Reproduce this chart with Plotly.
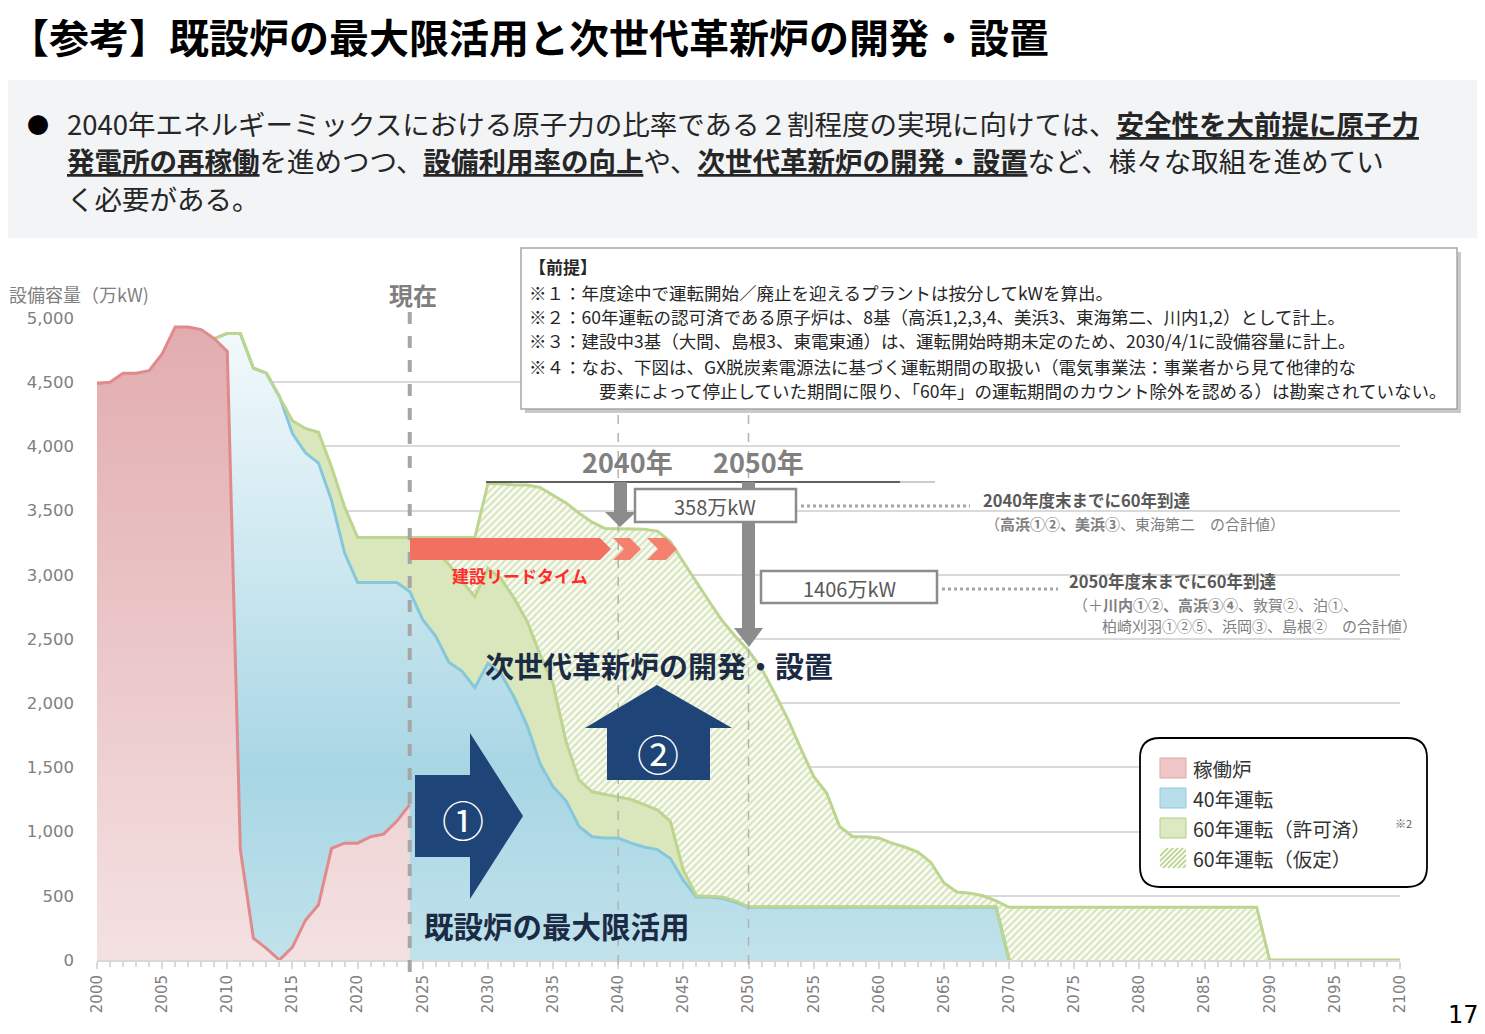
import plotly.graph_objects as go

# ---- data (万kW) ----
years_op = list(range(2000, 2025))
operating = [4490, 4500, 4570, 4570, 4590, 4720, 4930, 4930, 4910, 4840,
             4740, 860, 170, 90, 0, 100, 310, 430, 870, 910,
             910, 960, 980, 1080, 1210]

years_40 = list(range(2009, 2071))
run40 = [4840, 4880, 4880, 4610, 4570, 4390, 4100, 3950, 3870, 3580,
         3170, 2940, 2940, 2940, 2940, 2870, 2650, 2520, 2320, 2250,
         2120, 2310, 2230, 2050, 1830, 1530, 1350, 1240, 1040, 960,
         950, 950, 910, 880, 860, 790, 620, 490, 490, 480,
         450, 410, 410, 410, 410, 410, 410, 410, 410, 410,
         410, 410, 410, 410, 410, 410, 410, 410, 410, 410,
         410, 0]

years_60 = list(range(2009, 2071))
run60_ok = [4840, 4880, 4880, 4610, 4570, 4390, 4200, 4140, 4110, 3840,
            3530, 3290, 3290, 3290, 3290, 3290, 3270, 3180, 3080, 2950,
            2830, 3050, 2970, 2820, 2640, 2380, 2150, 1700, 1400, 1310,
            1290, 1270, 1250, 1210, 1170, 1080, 700, 500, 495, 490,
            460, 415, 415, 415, 415, 415, 415, 415, 415, 415,
            415, 415, 415, 415, 415, 415, 415, 415, 415, 415,
            415, 0]

years_hyp = list(range(2020, 2101))
run60_hyp = [3290, 3290, 3290, 3290, 3290, 3290, 3290, 3290, 3290, 3290,
             3710, 3710, 3700, 3700, 3680, 3620, 3560, 3480, 3410, 3360,
             3360, 3360, 3355, 3340, 3260, 3100, 2940, 2790, 2640, 2520,
             2410, 2270, 2080, 1880, 1650, 1430, 1300, 1040, 960, 960,
             950, 910, 880, 840, 760, 600, 530, 520, 500, 460,
             410, 410, 410, 410, 410, 410, 410, 410, 410, 410,
             410, 410, 410, 410, 410, 410, 410, 410, 410, 410,
             0, 0, 0, 0, 0, 0, 0, 0, 0, 0, 0]

legend_names = ["稼働炉", "40年運転", "60年運転（許可済）", "60年運転（仮定）"]
x_ticks = list(range(2000, 2101, 5))
y_ticks = list(range(0, 5001, 500))

JP = "Noto Sans CJK JP"
OFF = 8                            # page body margin
W, H = 1485 - OFF, 1034 - OFF
L, R, T, B = 97, 1400, 318, 960    # plot area in page pixels


def px(x):
    return (x - L) / (R - L)


def py(y):
    return (B - y) / (B - T)


shapes = []
ann = []


def rect(x0, y0, x1, y1, fill, line=None, lw=0):
    shapes.append(dict(type="rect", xref="paper", yref="paper",
                       x0=px(x0), x1=px(x1), y0=py(y1), y1=py(y0),
                       fillcolor=fill, line=dict(color=line or fill, width=lw)))


def poly(pts, fill, line=None, lw=0):
    path = "M " + " L ".join(f"{px(a):.5f},{py(b):.5f}" for a, b in pts) + " Z"
    shapes.append(dict(type="path", xref="paper", yref="paper", path=path,
                       fillcolor=fill, line=dict(color=line or fill, width=lw)))


def seg(x0, y0, x1, y1, color, w, dash="solid"):
    shapes.append(dict(type="line", xref="paper", yref="paper",
                       x0=px(x0), x1=px(x1), y0=py(y0), y1=py(y1),
                       line=dict(color=color, width=w, dash=dash)))


def txt(x, y, s, size, color="#595959", anchor="left", family=JP):
    ann.append(dict(x=px(x), y=py(y), xref="paper", yref="paper", text=s,
                    showarrow=False, xanchor=anchor, yanchor="middle", borderpad=0,
                    font=dict(family=family, size=size, color=color)))


fig = go.Figure()

# filled areas
fig.add_trace(go.Scatter(x=years_hyp, y=run60_hyp, fill="tozeroy", mode="none",
                         name=legend_names[3],
                         fillpattern=dict(shape="/", fgcolor="#b4ce87", bgcolor="#fafcf5",
                                          size=5, solidity=0.45)))
fig.add_trace(go.Scatter(x=years_60, y=run60_ok, fill="tozeroy", mode="none",
                         name=legend_names[2], fillcolor="#dae7bc"))
fig.add_trace(go.Scatter(x=years_40, y=run40, fill="tozeroy", mode="none",
                         name=legend_names[1],
                         fillgradient=dict(type="vertical", start=0, stop=4900,
                                           colorscale=[[0, "#c0e2eb"], [0.3, "#a8d6e4"],
                                                       [0.6, "#c9e6ef"], [1, "#f3f9fc"]])))
fig.add_trace(go.Scatter(x=years_op, y=operating, fill="tozeroy", mode="none",
                         name=legend_names[0],
                         fillgradient=dict(type="vertical", start=0, stop=4950,
                                           colorscale=[[0, "#f4e1e2"], [1, "#e2acaf"]])))
# outlines
fig.add_trace(go.Scatter(x=years_40, y=run40, mode="lines", line=dict(color="#86c7dc", width=3)))
fig.add_trace(go.Scatter(x=years_60, y=run60_ok, mode="lines", line=dict(color="#bcd58f", width=3)))
fig.add_trace(go.Scatter(x=years_hyp, y=run60_hyp, mode="lines", line=dict(color="#bcd58f", width=3)))
fig.add_trace(go.Scatter(x=years_op, y=operating, mode="lines", line=dict(color="#e08a8c", width=3)))

# ---- header ----
txt(8, 36, "<b>【参考】既設炉の最大限活用と次世代革新炉の開発・設置</b>", 40, "#000000")
rect(0, 80, 1480, 238, "#f2f4f6")


def U(s):
    return f'<b><span style="text-decoration:underline">{s}</span></b>'


txt(26, 123, "●", 22, "#000000")
txt(66, 123, "2040年エネルギーミックスにおける原子力の比率である２割程度の実現に向けては、"
    + U("安全性を大前提に原子力"), 27.5, "#262626")
txt(66, 160, U("発電所の再稼働") + "を進めつつ、" + U("設備利用率の向上") + "や、"
    + U("次世代革新炉の開発・設置") + "など、様々な取組を進めてい", 27.5, "#262626")
txt(66, 198, "く必要がある。", 27.5, "#262626")

# ---- premise box ----
rect(525, 252, 1461, 413, "#c9c9c9")
rect(521, 248, 1457, 409, "#ffffff", "#a6a6a6", 1.5)
txt(528, 267, "<b>【前提】</b>", 17, "#262626")
txt(528, 292, "※１：年度途中で運転開始／廃止を迎えるプラントは按分してkWを算出。", 17.5, "#262626")
txt(528, 316, "※２：60年運転の認可済である原子炉は、8基（高浜1,2,3,4、美浜3、東海第二、川内1,2）として計上。", 17.5, "#262626")
txt(528, 341, "※３：建設中3基（大間、島根3、東電東通）は、運転開始時期未定のため、2030/4/1に設備容量に計上。", 17.5, "#262626")
txt(528, 366, "※４：なお、下図は、GX脱炭素電源法に基づく運転期間の取扱い（電気事業法：事業者から見て他律的な", 17.5, "#262626")
txt(598, 390, "要素によって停止していた期間に限り、「60年」の運転期間のカウント除外を認める）は勘案されていない。", 17.5, "#262626")

# ---- reference lines ----
shapes.append(dict(type="line", xref="x", yref="paper", x0=2024, x1=2024,
                   y0=py(972), y1=py(306), line=dict(color="#a6a6a6", width=4, dash="dash")))
for yr in (2040, 2050):
    shapes.append(dict(type="line", xref="x", yref="paper", x0=yr, x1=yr,
                       y0=py(964), y1=py(410), line=dict(color="#b3b3b3", width=1.5, dash="dash")))
txt(413, 295, "<b>現在</b>", 24, "#7f7f7f", "center")
txt(627, 461, "<b>2040年</b>", 27, "#808080", "center")
txt(758, 461, "<b>2050年</b>", 27, "#808080", "center")
seg(486, 482, 900, 482, "#2b2b2b", 1.5)
seg(900, 482, 935, 482, "#bdbdbd", 1.5)

# grey arrows
rect(614, 482, 627, 512, "#8c8c8c")
poly([(605, 512), (636, 512), (620, 527)], "#8c8c8c")
rect(742, 482, 755, 630, "#8c8c8c")
poly([(734, 628), (763, 628), (749, 647)], "#8c8c8c")

# value boxes
rect(635, 489, 796, 522, "#ffffff", "#8c8c8c", 2.5)
txt(715, 506, "358万kW", 20, "#595959", "center")
rect(761, 571, 937, 603, "#ffffff", "#8c8c8c", 2.5)
txt(849, 588, "1406万kW", 20, "#595959", "center")
seg(801, 506, 970, 506, "#a6a6a6", 3, "dot")
seg(942, 589, 1058, 589, "#a6a6a6", 3, "dot")

txt(982, 500, "<b>2040年度末までに60年到達</b>", 16.5, "#595959")
txt(984, 523, "（<b>高浜①②、美浜③</b>、東海第二　の合計値）", 15, "#7f7f7f")
txt(1068, 581, "<b>2050年度末までに60年到達</b>", 16.5, "#595959")
txt(1072, 604, "（＋<b>川内①②、高浜③④</b>、敦賀②、泊①、", 15, "#7f7f7f")
txt(1101, 625, "柏崎刈羽①②⑤、浜岡③、島根②　の合計値）", 15, "#7f7f7f")

# construction lead time bar
poly([(410, 538), (600, 538), (611, 549), (600, 560), (410, 560)], "#f2705f")
poly([(613, 538), (630, 538), (641, 549), (630, 560), (613, 560), (624, 549)], "#f4806f")
poly([(647, 538), (666, 538), (677, 549), (666, 560), (647, 560), (658, 549)], "#f4806f")
txt(520, 575, "<b>建設リードタイム</b>", 17, "#ff2b2b", "center")

# big navy arrows
NAVY = "#1f4478"
poly([(415, 775), (470, 775), (470, 733), (523, 816), (470, 899), (470, 857), (415, 857)], NAVY)
txt(463, 818, "①", 42, "#ffffff", "center")
poly([(607, 780), (607, 728), (585, 728), (657, 685), (732, 728), (710, 728), (710, 780)], NAVY)
txt(658, 752, "②", 42, "#ffffff", "center")
txt(659, 665, "<b>次世代革新炉の開発・設置</b>", 29, "#1c2b45", "center")
txt(557, 925, "<b>既設炉の最大限活用</b>", 29.5, "#1c2b45", "center")

# ---- custom legend ----
x0, y0, x1, y1, r = 1140, 738, 1427, 887, 20
path = (f"M {px(x0 + r)},{py(y0)} L {px(x1 - r)},{py(y0)} Q {px(x1)},{py(y0)} {px(x1)},{py(y0 + r)} "
        f"L {px(x1)},{py(y1 - r)} Q {px(x1)},{py(y1)} {px(x1 - r)},{py(y1)} "
        f"L {px(x0 + r)},{py(y1)} Q {px(x0)},{py(y1)} {px(x0)},{py(y1 - r)} "
        f"L {px(x0)},{py(y0 + r)} Q {px(x0)},{py(y0)} {px(x0 + r)},{py(y0)} Z")
shapes.append(dict(type="path", xref="paper", yref="paper", path=path,
                   fillcolor="#ffffff", line=dict(color="#000000", width=1.8)))
sw = [("#eec6c8", "#e3a5a8"), ("#b8deea", "#8fcbe0"), ("#dde9c2", "#b2cf80")]
for i, (fc, lc) in enumerate(sw):
    yc = 768 + i * 30
    rect(1160, yc - 10, 1186, yc + 10, fc, lc, 1)
rect(1160, 848, 1186, 868, "#f6f9ef")
for a in range(1148, 1186, 5):
    xa, ya, xb, yb = a, 868, a + 20, 848
    if xa < 1160:
        ya = 868 - (1160 - xa)
        xa = 1160
    if xb > 1186:
        yb = 848 + (xb - 1186)
        xb = 1186
    seg(xa, ya, xb, yb, "#b4ce87", 1.5)
for i, name in enumerate(legend_names):
    txt(1192, 768 + i * 30, name, 19.5, "#333333")
txt(1394, 823, "※2", 11, "#595959")

# axis title and page number
txt(150, 294, "設備容量（万kW)", 18, "#7f7f7f", "right")
txt(1480, 1015, "17", 24, "#000000", "right", "DejaVu Sans")

fig.update_layout(
    width=W, height=H,
    margin=dict(l=L - OFF, r=W + OFF - R, t=T - OFF, b=H + OFF - B),
    plot_bgcolor="#ffffff", paper_bgcolor="#ffffff",
    showlegend=False,
    shapes=shapes, annotations=ann,
    xaxis=dict(range=[2000, 2100], tickvals=x_ticks, tickangle=-90,
               showgrid=False, zeroline=False, showline=True, linecolor="#d9d9d9", linewidth=2,
               ticks="outside", ticklen=7, tickcolor="#d9d9d9", tickwidth=1.5,
               minor=dict(dtick=1, ticks="outside", ticklen=5, tickcolor="#d9d9d9"),
               tickfont=dict(family="DejaVu Sans", size=15, color="#808080")),
    yaxis=dict(range=[0, 5000], tickvals=y_ticks, tickformat=",",
               showgrid=True, gridcolor="#dadada", gridwidth=1.5, zeroline=False,
               ticks="", ticklabelstandoff=22,
               tickfont=dict(family="DejaVu Sans", size=16.5, color="#808080")),
)

fig.write_html("out.html")
